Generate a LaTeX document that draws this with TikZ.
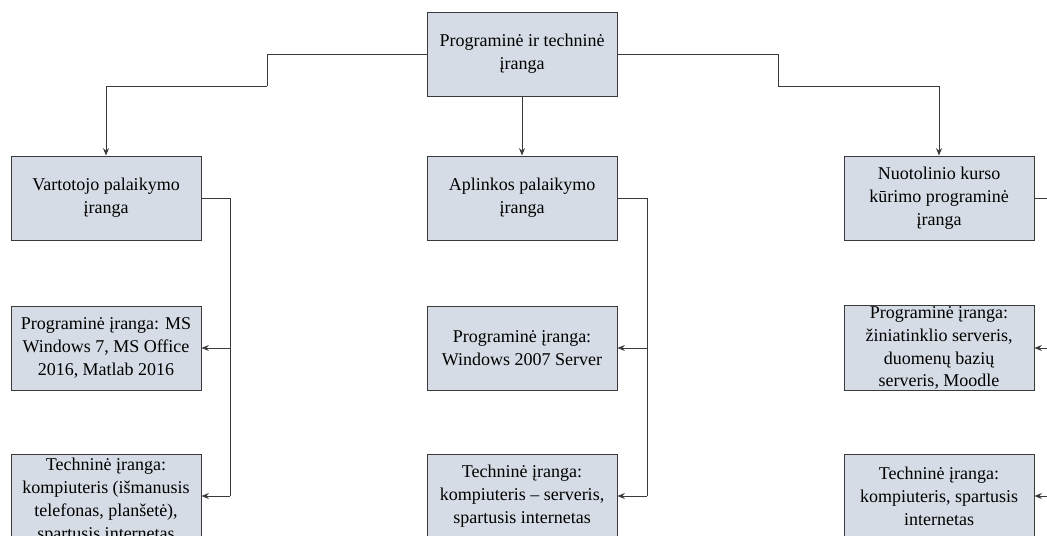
\documentclass[tikz,border=0pt]{standalone}
\usepackage{fontspec}
\setmainfont{Liberation Serif}
\usetikzlibrary{arrows.meta}
\definecolor{boxfill}{HTML}{D6DCE5}
\definecolor{boxline}{HTML}{3A3A3A}
\begin{document}
\begin{tikzpicture}[x=0.75pt,y=-0.75pt,
    box/.style={draw=boxline,fill=boxfill,line width=0.75pt,minimum width=142.5pt,minimum height=63pt,
      inner xsep=3pt,inner ysep=0.5pt,align=center,font=\fontsize{13.5}{17.2}\selectfont},
    link/.style={draw=boxline,line width=0.75pt},
    arr/.style={link,-{Stealth[length=5.5pt,width=4.5pt]}}]
    \useasboundingbox (0,0) rectangle (1047,536);
    \clip (0,0) rectangle (1047,536);
    \node[box] (top) at (522,54) {Programinė ir techninė\\ įranga};
    \node[box] (v1) at (106,198) {Vartotojo palaikymo\\ įranga};
    \node[box] (v2) at (106,348) {Programinė įranga: MS\\ Windows 7, MS Office\\ 2016, Matlab 2016};
    \node[box,anchor=north,inner ysep=3pt] (v3) at (106,454) {Techninė įranga:\\ kompiuteris (išmanusis\\ telefonas, planšetė),\\ spartusis internetas};
    \node[box] (a1) at (522,198) {Aplinkos palaikymo\\ įranga};
    \node[box] (a2) at (522,348) {Programinė įranga:\\ Windows 2007 Server};
    \node[box,anchor=north] (a3) at (522,454) {Techninė įranga:\\ kompiuteris – serveris,\\ spartusis internetas};
    \node[box] (n1) at (939,198) {Nuotolinio kurso\\ kūrimo programinė\\ įranga};
    \node[box] (n2) at (939,348) {Programinė įranga:\\ žiniatinklio serveris,\\ duomenų bazių\\ serveris, Moodle};
    \node[box,anchor=north] (n3) at (939,454) {Techninė įranga:\\ kompiuteris, spartusis\\ internetas};
    \coordinate (k1) at (267,86);
    \coordinate (k2) at (778,86);
    \draw[link] (top.west) -| (k1);
    \draw[arr] (k1) -| (v1.north);
    \draw[arr] (top.south) -- (a1.north);
    \draw[link] (top.east) -| (k2);
    \draw[arr] (k2) -| (n1.north);
    \coordinate (s1) at (230,496);
    \coordinate (s2) at (647,496);
    \coordinate (s3) at (1063,496);
    \draw[link] (v1.east) -| (s1);
    \draw[arr] (s1 |- v2.east) -- (v2.east);
    \draw[arr] (s1) -- (s1 -| v3.east);
    \draw[link] (a1.east) -| (s2);
    \draw[arr] (s2 |- a2.east) -- (a2.east);
    \draw[arr] (s2) -- (s2 -| a3.east);
    \draw[link] (n1.east) -| (s3);
    \draw[arr] (s3 |- n2.east) -- (n2.east);
    \draw[arr] (s3) -- (s3 -| n3.east);
\end{tikzpicture}
\end{document}
